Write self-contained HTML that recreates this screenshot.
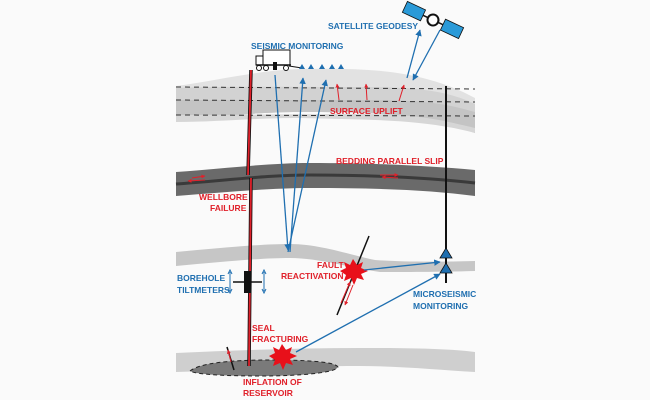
<!DOCTYPE html>
<html><head><style>
html,body{margin:0;padding:0;background:#fafafa;}
svg{display:block}
text{font-family:"Liberation Sans",sans-serif;font-weight:bold;font-size:8.5px;}
.b{fill:#1f6fb0}.r{fill:#e0202a}
</style></head><body>
<svg width="650" height="400" viewBox="0 0 650 400" xmlns="http://www.w3.org/2000/svg">
<defs>
<marker id="ab" viewBox="0 0 10 10" refX="9" refY="5" markerWidth="5" markerHeight="5" orient="auto"><path d="M0,0L10,5L0,10z" fill="#1f6fb0"/></marker>
<marker id="ar" viewBox="0 0 10 10" refX="9" refY="5" markerWidth="4" markerHeight="4" orient="auto"><path d="M0,0L10,5L0,10z" fill="#e0202a"/></marker>
</defs>
<rect width="650" height="400" fill="#fafafa"/>
<!-- top band -->
<path d="M176,86 C220,80 260,70 300,69 C360,68 420,68 475,98 L475,133 C420,112 360,112 300,112 C250,112 220,118 176,118 Z" fill="#e2e2e2"/>
<path d="M176,88 C230,86 300,87 340,87 C400,87 440,87 475,104 L475,133 C420,112 360,112 300,112 C250,112 220,118 176,118 Z" fill="#d2d2d2"/>
<path d="M176,100 C240,100 300,100 360,100 C420,100 440,102 475,112 L475,133 C420,112 360,112 300,112 C250,112 220,118 176,118 Z" fill="#c4c4c4"/>
<path d="M176,115 C250,115 300,114 360,114 C420,114 440,120 475,128 L475,133 C420,118 360,120 300,118 C250,118 220,122 176,122 Z" fill="#d6d6d6"/>
<g stroke="#333" stroke-width="1" stroke-dasharray="5,4" fill="none">
<line x1="176" y1="87" x2="475" y2="89"/><line x1="176" y1="100" x2="475" y2="102"/><line x1="176" y1="115" x2="475" y2="116"/>
</g>
<!-- bedding dark band -->
<path d="M176,172 C230,168 270,163 310,163 C380,163 430,166 475,170 L475,196 C430,190 380,188 310,188 C270,188 230,192 176,196 Z" fill="#6a6a6a"/>
<path d="M176,184 C230,180 270,175 310,175 C380,175 430,178 475,183" stroke="#3a3a3a" stroke-width="3" fill="none"/>
<!-- lower band -->
<path d="M176,252 C220,248 260,244 290,244 C320,244 350,255 375,260 C400,262 440,262 475,261 L475,271 C440,272 400,272 380,272 C350,268 320,258 290,258 C260,258 220,262 176,266 Z" fill="#c6c6c6"/>
<!-- reservoir band -->
<path d="M176,353 C240,350 300,348 360,348 C420,348 450,349 475,352 L475,372 C440,370 400,366 360,366 C300,366 240,370 176,372 Z" fill="#cfcfcf"/>
<path d="M190,371 C200,363 230,360 270,360 C310,360 335,362 338,367 C335,373 300,376 260,376 C220,376 195,374 190,371 Z" fill="#7a7a7a" stroke="#222" stroke-dasharray="4,3" stroke-width="1"/>
<!-- wellbore -->
<path d="M251,70 L248,175 M251,178 L249,366" stroke="#111" stroke-width="3.5" fill="none"/>
<path d="M251,70 L248,175 M251,178 L249,366" stroke="#e0202a" stroke-width="1.8" fill="none"/>
<!-- right black well -->
<line x1="446" y1="86" x2="446" y2="283" stroke="#111" stroke-width="2"/>
<path d="M440,258 L446,248 L452,258 Z M440,273 L446,263 L452,273 Z" fill="#1f6fb0" stroke="#111" stroke-width="0.8"/>
<!-- tiltmeter -->
<line x1="233" y1="282" x2="262" y2="282" stroke="#111" stroke-width="1.5"/>
<rect x="244" y="271" width="7" height="22" fill="#111"/>
<line x1="230" y1="272" x2="230" y2="291" stroke="#1f6fb0" stroke-width="1"/>
<line x1="264" y1="272" x2="264" y2="291" stroke="#1f6fb0" stroke-width="1"/>
<path d="M228,274L230,270L232,274M228,289L230,293L232,289M262,274L264,270L266,274M262,289L264,293L266,289" stroke="#1f6fb0" fill="none"/>
<!-- fault -->
<line x1="369" y1="236" x2="337" y2="315" stroke="#111" stroke-width="1.5"/>
<line x1="341" y1="303" x2="350" y2="282" stroke="#e0202a" stroke-width="1" marker-end="url(#ar)"/>
<line x1="353" y1="285" x2="345" y2="305" stroke="#e0202a" stroke-width="1" marker-end="url(#ar)"/>
<line x1="227" y1="347" x2="234" y2="370" stroke="#111" stroke-width="1.5"/>
<line x1="231" y1="362" x2="228" y2="350" stroke="#e0202a" stroke-width="1" marker-end="url(#ar)"/>
<!-- starbursts -->
<polygon points="353,259 357,265 363,262 361,268 368,271 361,274 364,280 357,278 354,285 351,278 344,281 346,275 340,271 346,268 344,262 350,265" fill="#e8101a"/>
<polygon points="282,344 286,350 292,347 290,353 297,356 290,359 293,365 286,363 283,370 280,363 273,366 275,360 269,356 275,353 273,347 279,350" fill="#e8101a"/>
<!-- blue arrows -->
<g stroke="#1f6fb0" stroke-width="1.3" fill="none" marker-end="url(#ab)">
<line x1="364" y1="270" x2="440" y2="262"/>
<line x1="296" y1="352" x2="440" y2="274"/>
<line x1="275" y1="75" x2="288" y2="250"/>
<line x1="290" y1="252" x2="303" y2="78"/>
<line x1="288" y1="252" x2="326" y2="80"/>
<line x1="407" y1="78" x2="420" y2="30"/>
<line x1="440" y1="30" x2="413" y2="80"/>
</g>
<!-- red uplift arrows -->
<g stroke="#e0202a" stroke-width="1" marker-end="url(#ar)">
<line x1="339" y1="100" x2="337" y2="84"/><line x1="367" y1="100" x2="366" y2="84"/><line x1="399" y1="101" x2="404" y2="85"/>
</g>
<!-- slip arrows -->
<g stroke="#e0202a" stroke-width="1" marker-end="url(#ar)">
<line x1="192" y1="178" x2="205" y2="176"/><line x1="205" y1="180" x2="188" y2="181"/>
<line x1="380" y1="175" x2="398" y2="175"/><line x1="398" y1="178" x2="382" y2="177"/>
</g>
<!-- truck -->
<rect x="263" y="50" width="27" height="15" fill="#fff" stroke="#111" stroke-width="1"/>
<rect x="256" y="56" width="7" height="9" fill="#fff" stroke="#111" stroke-width="1"/>
<line x1="256" y1="65" x2="291" y2="65" stroke="#111" stroke-width="1.5"/>
<circle cx="259" cy="68" r="2.5" fill="#fff" stroke="#111"/><circle cx="266" cy="68" r="2.5" fill="#fff" stroke="#111"/><circle cx="286" cy="68" r="2.5" fill="#fff" stroke="#111"/>
<rect x="273" y="62" width="4" height="8" fill="#111"/>
<line x1="289" y1="66" x2="302" y2="68" stroke="#111"/>
<g fill="#1f6fb0"><path d="M299,69l3,-5l3,5z M308,69l3,-5l3,5z M319,69l3,-5l3,5z M329,69l3,-5l3,5z M338,69l3,-5l3,5z"/></g>
<!-- satellite -->
<g transform="rotate(25 433 20)">
<rect x="402" y="14" width="20" height="12" fill="#2a9ad8" stroke="#111" stroke-width="0.8"/>
<rect x="444" y="14" width="20" height="12" fill="#2a9ad8" stroke="#111" stroke-width="0.8"/>
<line x1="422" y1="20" x2="444" y2="20" stroke="#111" stroke-width="1.5"/>
<circle cx="433" cy="20" r="5.5" fill="#fff" stroke="#111" stroke-width="2"/>
</g>
<!-- labels -->
<text class="b" x="328" y="29">SATELLITE GEODESY</text>
<text class="b" x="251" y="49">SEISMIC MONITORING</text>
<text class="r" x="330" y="114">SURFACE UPLIFT</text>
<text class="r" x="336" y="164">BEDDING PARALLEL SLIP</text>
<text class="r" x="199" y="200">WELLBORE</text>
<text class="r" x="210" y="211">FAILURE</text>
<text class="r" x="317" y="268">FAULT</text>
<text class="r" x="281" y="279">REACTIVATION</text>
<text class="b" x="177" y="281">BOREHOLE</text>
<text class="b" x="177" y="293">TILTMETERS</text>
<text class="b" x="413" y="297">MICROSEISMIC</text>
<text class="b" x="413" y="309">MONITORING</text>
<text class="r" x="252" y="331">SEAL</text>
<text class="r" x="252" y="342">FRACTURING</text>
<text class="r" x="243" y="385">INFLATION OF</text>
<text class="r" x="243" y="396">RESERVOIR</text>
</svg>
</body></html>
